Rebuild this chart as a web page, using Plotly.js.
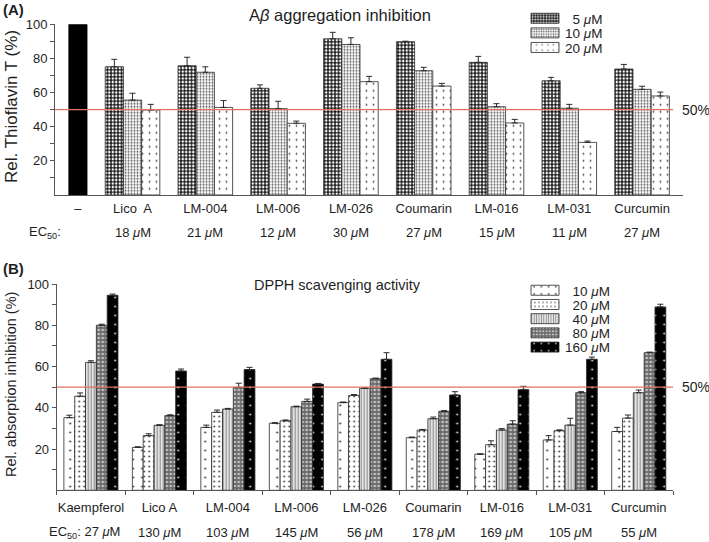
<!DOCTYPE html>
<html>
<head>
<meta charset="utf-8">
<script src="https://cdn.plot.ly/plotly-3.0.1.min.js"></script>
<style>
html,body{margin:0;padding:0;background:#fff;}
#chart{width:709px;height:542px;}
</style>
</head>
<body>
<div id="chart"></div>
<script>
// ---------------- Panel A: Aβ aggregation inhibition ----------------
const controlLabel = "–";
const controlValue = 100;
const compoundsA = ["Lico  A", "LM-004", "LM-006", "LM-026", "Coumarin", "LM-016", "LM-031", "Curcumin"];
const seriesNamesA = ["5", "10", "20"];
const a5     = [75.1, 75.7, 62.5, 91.5, 89.8, 77.7, 66.9, 73.8];
const a5err  = [4.4, 5.0, 2.0, 3.8, 0.3, 3.5, 2.0, 2.7];
const a10    = [55.6, 71.9, 50.6, 88.2, 72.8, 51.7, 50.8, 61.9];
const a10err = [4.0, 3.2, 4.3, 3.9, 2.0, 1.8, 2.3, 1.8];
const a20    = [49.8, 51.3, 42.0, 66.4, 63.8, 42.2, 30.8, 58.0];
const a20err = [3.3, 4.0, 1.3, 3.1, 1.6, 2.1, 0.8, 2.3];
const ec50A  = ["18", "21", "12", "30", "27", "15", "11", "27"];

// ---------------- Panel B: DPPH scavenging activity ----------------
const compoundsB = ["Kaempferol", "Lico A", "LM-004", "LM-006", "LM-026", "Coumarin", "LM-016", "LM-031", "Curcumin"];
const seriesNamesB = ["10", "20", "40", "80", "160"];
const b10     = [35.2, 20.8, 30.5, 32.5, 42.5, 25.5, 17.5, 24.4, 28.5];
const b10err  = [1.2, 0.3, 1.1, 0.3, 0.3, 0.3, 0.2, 2.1, 2.0];
const b20     = [45.6, 26.5, 37.8, 33.7, 46.0, 29.2, 22.1, 28.9, 35.0];
const b20err  = [1.6, 0.9, 1.1, 0.4, 0.4, 0.3, 1.9, 0.4, 1.5];
const b40     = [62.0, 31.5, 39.4, 40.5, 49.4, 34.7, 29.2, 31.6, 47.3];
const b40err  = [0.8, 0.3, 0.3, 0.3, 0.3, 0.8, 0.7, 3.3, 1.3];
const b80     = [80.0, 36.2, 49.9, 43.1, 54.1, 38.3, 32.1, 47.3, 66.7];
const b80err  = [0.5, 0.4, 2.0, 1.1, 0.3, 0.3, 1.6, 0.5, 0.3];
const b160    = [94.5, 57.8, 58.5, 51.5, 63.5, 46.2, 48.8, 63.5, 88.9];
const b160err = [0.6, 1.0, 1.1, 0.3, 3.2, 1.6, 1.6, 1.1, 1.3];
const ec50B   = ["27", "130", "103", "145", "56", "178", "169", "105", "55"];

const threshold = 50;

// ---------------- helpers ----------------
const W = 709, H = 542;
const fx = p => p / W;
const fy = p => 1 - p / H;
const FONT = '"Liberation Sans", Arial, Helvetica, sans-serif';
const TXT = '#1e1e1e';
const um = ' <i>μ</i>M';
const pad = (s, n) => '\u2007'.repeat(Math.max(0, n - s.length)) + s;

function errBar(arr) {
  return {type: 'data', array: arr, arrayminus: arr.map(() => 0), symmetric: false,
          color: '#2a2a2a', thickness: 1, width: 3, visible: true};
}
const outline = {color: '#2a2a2a', width: 0.8};

const patA = [
  {shape: '.', bgcolor: '#1a1a1a', fgcolor: '#ffffff', size: 3.5, solidity: 0.4},
  {shape: '.', bgcolor: '#ffffff', fgcolor: '#555555', size: 3, solidity: 0.35},
  {shape: '.', bgcolor: '#ffffff', fgcolor: '#444444', size: 7, solidity: 0.05}
];
const patB = [
  {shape: '.', bgcolor: '#ffffff', fgcolor: '#333333', size: 9, solidity: 0.04},
  {shape: '.', bgcolor: '#ffffff', fgcolor: '#333333', size: 5, solidity: 0.1},
  {shape: '|', bgcolor: '#ffffff', fgcolor: '#8c8c8c', size: 3, solidity: 0.5},
  {shape: '.', bgcolor: '#6a6a6a', fgcolor: '#c4c4c4', size: 4, solidity: 0.35},
  {shape: '.', bgcolor: '#000000', fgcolor: '#e0e0e0', size: 9, solidity: 0.04}
];

// positions on panel A's numeric axis (control sits closer to the first group)
const ctrlPos = 0.25;
const posA = compoundsA.map((_, i) => i + 1);
const barW = 0.25;

const traces = [];
traces.push({
  type: 'bar', x: [ctrlPos], y: [controlValue], xaxis: 'x', yaxis: 'y',
  width: barW, offset: -barW / 2,
  marker: {color: '#000', line: {color: '#000', width: 0.8}},
  showlegend: false, hoverinfo: 'skip'
});
const valsA = [a5, a10, a20], errsA = [a5err, a10err, a20err];
seriesNamesA.forEach((n, k) => {
  traces.push({
    type: 'bar', name: pad(n, 2) + um, x: posA, y: valsA[k], xaxis: 'x', yaxis: 'y',
    width: barW, offset: -1.5 * barW + k * barW,
    marker: {color: '#ffffff', pattern: patA[k], line: outline},
    error_y: errBar(errsA[k]), legend: 'legend', hoverinfo: 'skip'
  });
});
const valsB = [b10, b20, b40, b80, b160], errsB = [b10err, b20err, b40err, b80err, b160err];
seriesNamesB.forEach((n, k) => {
  traces.push({
    type: 'bar', name: pad(n, 3) + um, x: compoundsB, y: valsB[k], xaxis: 'x2', yaxis: 'y2',
    marker: {color: '#ffffff', pattern: patB[k], line: outline},
    error_y: errBar(errsB[k]), legend: 'legend2', hoverinfo: 'skip'
  });
});

const axisCommon = {showline: true, linecolor: '#555', linewidth: 1, showgrid: false, zeroline: false,
                    tickcolor: '#555', tickwidth: 1, fixedrange: true};

const annotations = [
  {text: '<b>(A)</b>', x: fx(1), y: fy(10), xref: 'paper', yref: 'paper', xanchor: 'left', yanchor: 'middle', showarrow: false, font: {size: 15}},
  {text: 'A<i>β</i> aggregation inhibition', x: fx(340), y: fy(15), xref: 'paper', yref: 'paper', xanchor: 'center', yanchor: 'middle', showarrow: false, font: {size: 16.5}},
  {text: 'Rel. Thioflavin T (%)', x: fx(11), y: fy(107), xref: 'paper', yref: 'paper', textangle: -90, xanchor: 'center', yanchor: 'middle', showarrow: false, font: {size: 17}},
  {text: '50%', x: fx(680), y: threshold, xref: 'paper', yref: 'y', xanchor: 'left', yanchor: 'middle', showarrow: false, font: {size: 14}},
  {text: 'EC<sub>50</sub>:', x: fx(45), y: fy(232), xref: 'paper', yref: 'paper', xanchor: 'center', yanchor: 'middle', showarrow: false, font: {size: 13}},
  {text: '<b>(B)</b>', x: fx(1), y: fy(268), xref: 'paper', yref: 'paper', xanchor: 'left', yanchor: 'middle', showarrow: false, font: {size: 15}},
  {text: 'DPPH scavenging activity', x: fx(337), y: fy(285), xref: 'paper', yref: 'paper', xanchor: 'center', yanchor: 'middle', showarrow: false, font: {size: 14.5}},
  {text: 'Rel. absorption inhibition (%)', x: fx(11), y: fy(385), xref: 'paper', yref: 'paper', textangle: -90, xanchor: 'center', yanchor: 'middle', showarrow: false, font: {size: 14.5}},
  {text: '50%', x: fx(680), y: threshold, xref: 'paper', yref: 'y2', xanchor: 'left', yanchor: 'middle', showarrow: false, font: {size: 14}}
];
ec50A.forEach((v, i) => annotations.push({
  text: v + um, x: posA[i], y: fy(232), xref: 'x', yref: 'paper', xanchor: 'center', yanchor: 'middle', showarrow: false, font: {size: 13}
}));
ec50B.forEach((v, i) => annotations.push({
  text: (i === 0 ? 'EC<sub>50</sub>: ' : '') + v + um, x: compoundsB[i], y: fy(532), xref: 'x2', yref: 'paper',
  xanchor: 'center', yanchor: 'middle', showarrow: false, font: {size: 13}, xshift: i === 0 ? -6 : 0
}));

const layout = {
  width: W, height: H,
  margin: {l: 0, r: 0, t: 0, b: 0},
  paper_bgcolor: '#ffffff', plot_bgcolor: 'rgba(0,0,0,0)',
  font: {family: FONT, color: TXT, size: 13},
  barmode: 'group', bargap: 0.21, bargroupgap: 0,
  xaxis: Object.assign({}, axisCommon, {
    domain: [fx(55), fx(683)], anchor: 'y', type: 'linear', range: [-0.065, 8.562],
    tickvals: [ctrlPos].concat(posA), ticktext: [controlLabel].concat(compoundsA),
    ticks: '', ticklabelstandoff: 1, tickangle: 0, tickfont: {size: 13}
  }),
  yaxis: Object.assign({}, axisCommon, {
    domain: [fy(195), fy(24.3)], anchor: 'x', range: [0, 100],
    tickvals: [20, 40, 60, 80, 100], ticks: 'outside', ticklen: 4, tickfont: {size: 13},
    minor: {tickvals: [10, 30, 50, 70, 90], ticks: 'outside', ticklen: 4, tickcolor: '#555'}
  }),
  xaxis2: Object.assign({}, axisCommon, {
    domain: [fx(56.7), fx(673)], anchor: 'y2', type: 'category', range: [-0.5, 8.5],
    tickson: 'boundaries', ticks: 'outside', ticklen: 4, ticklabelstandoff: 5, tickangle: 0,
    tickfont: {size: 13}
  }),
  yaxis2: Object.assign({}, axisCommon, {
    domain: [fy(490.3), fy(284)], anchor: 'x2', range: [0, 100],
    tickvals: [20, 40, 60, 80, 100], ticks: 'outside', ticklen: 4, tickfont: {size: 13},
    minor: {tickvals: [10, 30, 50, 70, 90], ticks: 'outside', ticklen: 4, tickcolor: '#555'}
  }),
  legend: {x: fx(525), y: fy(3), xanchor: 'left', yanchor: 'top', bgcolor: 'rgba(0,0,0,0)',
           borderwidth: 0, font: {size: 13.5}, tracegroupgap: 0},
  legend2: {x: fx(525), y: fy(275), xanchor: 'left', yanchor: 'top', bgcolor: 'rgba(0,0,0,0)',
            borderwidth: 0, font: {size: 13.5}, tracegroupgap: 0},
  shapes: [
    {type: 'line', xref: 'paper', yref: 'y', x0: fx(55), x1: fx(673), y0: threshold, y1: threshold,
     line: {color: '#e0735e', width: 1.3}},
    {type: 'line', xref: 'paper', yref: 'y2', x0: fx(56.7), x1: fx(673), y0: threshold, y1: threshold,
     line: {color: '#e0735e', width: 1.3}}
  ],
  annotations: annotations
};

Plotly.newPlot('chart', traces, layout, {staticPlot: true, displayModeBar: false}).then(gd => {
  // tighten legend rows and widen swatches to match the original figure's compact key
  const steps = {legend: 14.6, legend2: 14.2};
  try {
    gd.querySelectorAll('g.infolayer > g').forEach(leg => {
      const cls = (leg.getAttribute('class') || '').trim();
      if (!(cls in steps)) return;
      const items = Array.from(leg.querySelectorAll('g.traces'));
      if (!items.length) return;
      const m = /translate\(\s*([-\d.]+)[ ,]+([-\d.]+)\s*\)/.exec(items[0].getAttribute('transform') || '');
      if (!m) return;
      const x0 = parseFloat(m[1]), y0 = parseFloat(m[2]);
      items.forEach((g, i) => g.setAttribute('transform', 'translate(' + x0 + ',' + (y0 + i * steps[cls]) + ')'));
      leg.querySelectorAll('g.legendpoints path').forEach(p => {
        if ((p.getAttribute('d') || '').replace(/\s/g, '') === 'M6,6H-6V-6H6Z') p.setAttribute('d', 'M14,5H-14V-5H14Z');
      });
    });
  } catch (e) { /* keep default legend */ }
});
</script>
</body>
</html>
